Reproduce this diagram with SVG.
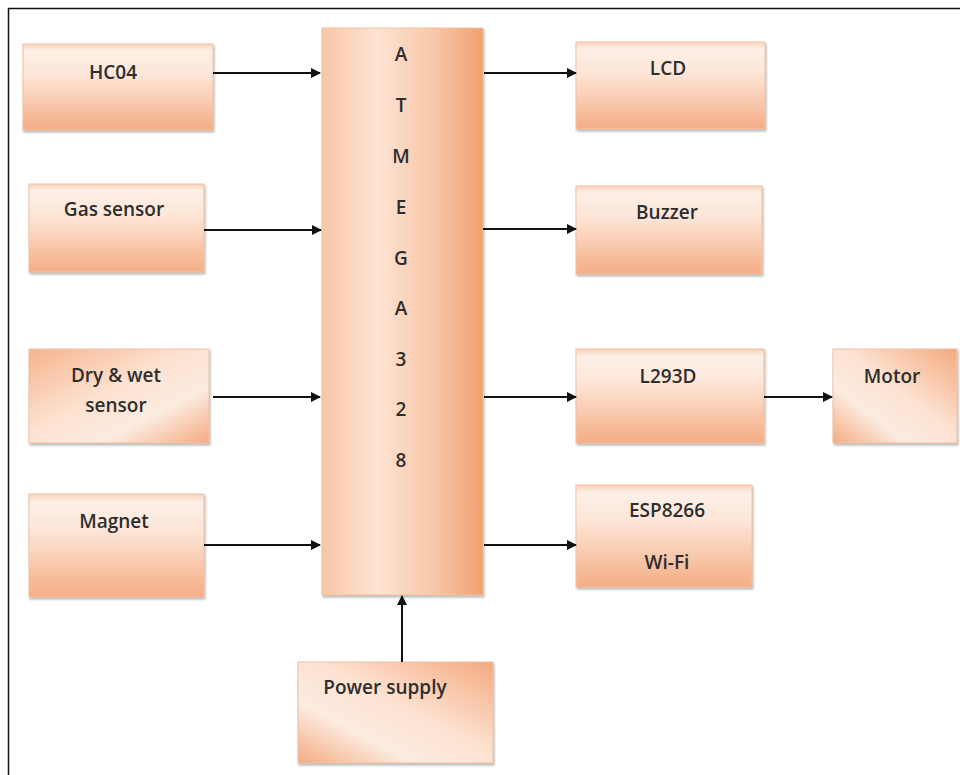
<svg xmlns="http://www.w3.org/2000/svg" width="960" height="775" viewBox="0 0 960 775">
<defs>
<linearGradient id="gv" x1="0" y1="0" x2="0" y2="1">
<stop offset="0" stop-color="#f9d3bb"/>
<stop offset="0.08" stop-color="#fdf0e7"/>
<stop offset="0.35" stop-color="#fde6d8"/>
<stop offset="1" stop-color="#f4ad85"/>
</linearGradient>
<linearGradient id="gh" x1="0" y1="0" x2="1" y2="0">
<stop offset="0" stop-color="#f7c7a8"/>
<stop offset="0.35" stop-color="#fde3d3"/>
<stop offset="0.7" stop-color="#f8c6a6"/>
<stop offset="1" stop-color="#f0a070"/>
</linearGradient>
<linearGradient id="gd" x1="0" y1="0" x2="1" y2="1">
<stop offset="0" stop-color="#f5b48d"/>
<stop offset="0.45" stop-color="#fde2d1"/>
<stop offset="0.7" stop-color="#fcebe0"/>
<stop offset="1" stop-color="#f3ab82"/>
</linearGradient>
<linearGradient id="gd2" x1="1" y1="0" x2="0" y2="1">
<stop offset="0" stop-color="#f3a97e"/>
<stop offset="0.45" stop-color="#fde2d1"/>
<stop offset="0.7" stop-color="#fcebe0"/>
<stop offset="1" stop-color="#f3ab82"/>
</linearGradient>
<marker id="ah" markerWidth="10" markerHeight="10" refX="9" refY="5" orient="auto" markerUnits="userSpaceOnUse">
<path d="M0,0 L10,5 L0,10 z" fill="#111"/>
</marker>
<filter id="sh" x="-5%" y="-5%" width="115%" height="115%">
<feDropShadow dx="1" dy="2" stdDeviation="1" flood-color="#888" flood-opacity="0.6"/>
</filter>
</defs>
<style>
.bx{stroke:#f2c2a4;stroke-width:1;filter:url(#sh)}
.t{font-family:"Open Sans","Liberation Sans",sans-serif;font-size:19px;font-weight:600;fill:#2e2e2e;text-anchor:middle}
.c{stroke:#111;stroke-width:2;fill:none;marker-end:url(#ah)}
</style>
<rect x="0" y="0" width="960" height="775" fill="#fff"/>
<rect x="8.5" y="8.5" width="960" height="780" fill="none" stroke="#111" stroke-width="1.5"/>

<g id="hc04"><rect class="bx" x="23" y="44" width="190" height="86" fill="url(#gv)"/><text class="t" x="113" y="79">HC04</text></g>
<g id="gas"><rect class="bx" x="29" y="184" width="175" height="88" fill="url(#gv)"/><text class="t" x="114" y="216">Gas sensor</text></g>
<g id="drywet"><rect class="bx" x="29" y="349" width="180" height="94" fill="url(#gd)"/><text class="t" x="116" y="382">Dry &amp; wet</text><text class="t" x="116" y="412">sensor</text></g>
<g id="magnet"><rect class="bx" x="29" y="494" width="175" height="103" fill="url(#gv)"/><text class="t" x="114" y="528">Magnet</text></g>

<g id="atmega"><rect class="bx" x="322" y="28" width="161" height="567" fill="url(#gh)"/>
<text class="t" x="401" y="61">A</text>
<text class="t" x="401" y="112">T</text>
<text class="t" x="401" y="163">M</text>
<text class="t" x="401" y="214">E</text>
<text class="t" x="401" y="265">G</text>
<text class="t" x="401" y="315">A</text>
<text class="t" x="401" y="366">3</text>
<text class="t" x="401" y="416">2</text>
<text class="t" x="401" y="467">8</text>
</g>

<g id="lcd"><rect class="bx" x="576" y="42" width="189" height="87" fill="url(#gv)"/><text class="t" x="668" y="75">LCD</text></g>
<g id="buzzer"><rect class="bx" x="576" y="186" width="186" height="88" fill="url(#gv)"/><text class="t" x="667" y="219">Buzzer</text></g>
<g id="l293d"><rect class="bx" x="576" y="349" width="188" height="94" fill="url(#gv)"/><text class="t" x="668" y="383">L293D</text></g>
<g id="motor"><rect class="bx" x="833" y="349" width="124" height="94" fill="url(#gd2)"/><text class="t" x="892" y="383">Motor</text></g>
<g id="esp"><rect class="bx" x="576" y="485" width="176" height="102" fill="url(#gv)"/><text class="t" x="667" y="517">ESP8266</text><text class="t" x="667" y="569">Wi-Fi</text></g>
<g id="power"><rect class="bx" x="298" y="662" width="195" height="101" fill="url(#gd2)"/><text class="t" x="385" y="694">Power supply</text></g>

<g id="connectors">
<line class="c" x1="213" y1="73" x2="320" y2="73"/>
<line class="c" x1="204" y1="230" x2="321" y2="230"/>
<line class="c" x1="213" y1="397" x2="320" y2="397"/>
<line class="c" x1="204" y1="545" x2="320" y2="545"/>
<line class="c" x1="484" y1="73" x2="576" y2="73"/>
<line class="c" x1="483" y1="229" x2="576" y2="229"/>
<line class="c" x1="484" y1="397" x2="576" y2="397"/>
<line class="c" x1="764" y1="397" x2="832" y2="397"/>
<line class="c" x1="484" y1="545" x2="576" y2="545"/>
<line class="c" x1="402" y1="662" x2="402" y2="596"/>
</g>
</svg>
